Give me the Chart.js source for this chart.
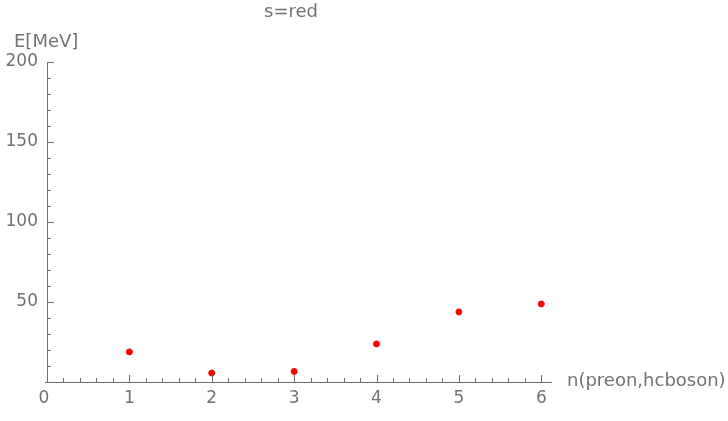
<!DOCTYPE html>
<html>
<head>
<meta charset="utf-8">
<script src="https://cdn.jsdelivr.net/npm/chart.js@4"></script>
<style>
  html, body { margin: 0; padding: 0; background: #fff; }
  #wrap { width: 728px; height: 421px; }
</style>
</head>
<body>
<div id="wrap"><canvas id="chart"></canvas></div>
<script>
// n values and energies
const nValues = [1, 2, 3, 4, 5, 6];
const energies = [18.8, 5.6, 6.6, 23.8, 43.8, 48.8];

const xTicks = [0, 1, 2, 3, 4, 5, 6];
const yTicks = [50, 100, 150, 200];
const xMinorStep = 0.2;
const yMinorStep = 10;

const titleText = 's=red';
const xLabel = 'n(preon,hcboson)';
const yLabel = 'E[MeV]';

const FONT = '18px "DejaVu Sans", sans-serif';
const NUM_FONT = '17px "DejaVu Sans", sans-serif';
const AXIS_COLOR = '#6e6e6e';
const TEXT_COLOR = '#727272';

// Mathematica-style axes: ticks point inward, labels outside
const mmaAxes = {
  id: 'mmaAxes',
  afterDatasetsDraw(chart) {
    const ctx = chart.ctx;
    const xs = chart.scales.x;
    const ys = chart.scales.y;
    const x0 = xs.getPixelForValue(0);
    const y0 = ys.getPixelForValue(0);
    const xEnd = xs.right;
    const yTop = ys.top;

    ctx.save();
    ctx.strokeStyle = AXIS_COLOR;
    ctx.lineWidth = 1;

    // axis lines
    ctx.beginPath();
    ctx.moveTo(x0 - 2, y0 + 0.5);
    ctx.lineTo(xEnd, y0 + 0.5);
    ctx.moveTo(x0 + 0.5, y0);
    ctx.lineTo(x0 + 0.5, yTop);
    ctx.stroke();

    // x ticks (minor + major)
    ctx.beginPath();
    for (let v = xMinorStep; v <= xs.max + 1e-9; v += xMinorStep) {
      const px = Math.round(xs.getPixelForValue(v)) + 0.5;
      const major = Math.abs(v - Math.round(v)) < 1e-6;
      ctx.moveTo(px, y0);
      ctx.lineTo(px, y0 - (major ? 7 : 4));
    }
    // y ticks
    for (let v = yMinorStep; v <= ys.max + 1e-9; v += yMinorStep) {
      const py = Math.round(ys.getPixelForValue(v)) + 0.5;
      const major = v % 50 === 0;
      ctx.moveTo(x0, py);
      ctx.lineTo(x0 + (major ? 7 : 4), py);
    }
    ctx.stroke();

    // tick labels
    ctx.fillStyle = TEXT_COLOR;
    ctx.font = NUM_FONT;
    ctx.textAlign = 'center';
    ctx.textBaseline = 'middle';
    xTicks.forEach(v => {
      ctx.fillText(String(v), xs.getPixelForValue(v) - (v === 0 ? 3 : 0), y0 + 17);
    });
    ctx.textAlign = 'right';
    yTicks.forEach(v => {
      ctx.fillText(String(v), x0 - 9, ys.getPixelForValue(v));
    });

    // axis labels and title
    ctx.font = FONT;
    ctx.textAlign = 'left';
    ctx.fillText(xLabel, 567, y0 - 1);
    ctx.fillText(yLabel, 14, 42);
    ctx.textAlign = 'center';
    ctx.fillText(titleText, 291, 12);
    ctx.restore();
  }
};

new Chart(document.getElementById('chart'), {
  type: 'scatter',
  data: {
    datasets: [{
      data: nValues.map((n, i) => ({ x: n, y: energies[i] })),
      backgroundColor: '#ff0000',
      borderColor: '#ff0000',
      pointRadius: 3,
      pointHoverRadius: 3,
    }],
  },
  options: {
    responsive: true,
    maintainAspectRatio: false,
    animation: false,
    layout: {
      padding: { left: 47, right: 176, top: 62, bottom: 39 },
    },
    plugins: {
      legend: { display: false },
      tooltip: { enabled: false },
    },
    scales: {
      x: { type: 'linear', min: 0, max: 6.13, display: false },
      y: { type: 'linear', min: 0, max: 200, display: false },
    },
  },
  plugins: [mmaAxes],
});
</script>
</body>
</html>
